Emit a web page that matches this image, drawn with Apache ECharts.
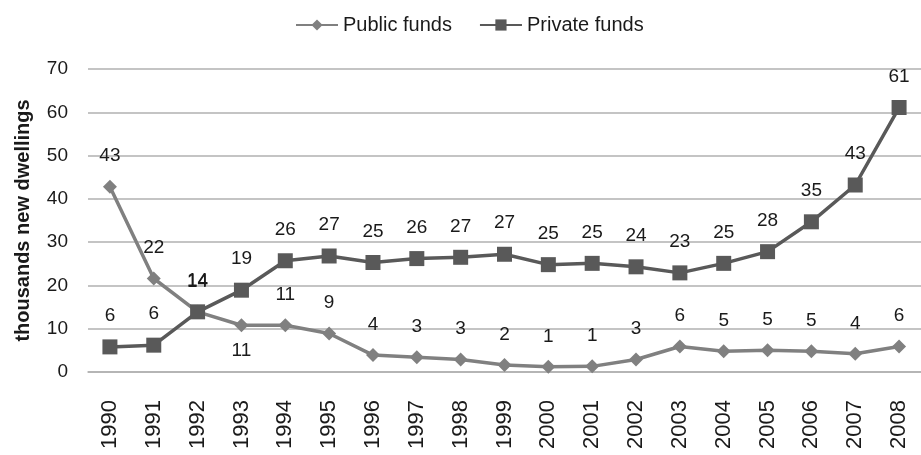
<!DOCTYPE html>
<html>
<head>
<meta charset="utf-8">
<script src="https://cdn.jsdelivr.net/npm/echarts@6/dist/echarts.min.js"></script>
<style>
  html, body { margin: 0; padding: 0; background: #fff; }
  #chart { width: 921px; height: 455px; }
</style>
</head>
<body>
<div id="chart"></div>
<script>
const years = ["1990", "1991", "1992", "1993", "1994", "1995", "1996", "1997", "1998", "1999",
  "2000", "2001", "2002", "2003", "2004", "2005", "2006", "2007", "2008"];
const publicFunds = [42.8, 21.6, 13.9, 10.8, 10.8, 8.9, 3.9, 3.4, 2.9, 1.6,
  1.2, 1.3, 2.9, 5.9, 4.8, 5.0, 4.8, 4.2, 5.9];
const privateFunds = [5.8, 6.2, 13.9, 18.9, 25.7, 26.8, 25.3, 26.2, 26.5, 27.2,
  24.8, 25.1, 24.3, 22.9, 25.1, 27.8, 34.7, 43.2, 61.1];
// public label drawn under the point for this year
const publicLabelBelow = ["1993"];

const font = "Liberation Sans";
const chart = echarts.init(document.getElementById("chart"));

const option = {
  animation: false,
  backgroundColor: "#fff",
  textStyle: { fontFamily: font },
  legend: {
    top: 10,
    left: 290,
    itemWidth: 42,
    itemHeight: 14,
    itemGap: 27,
    textStyle: { fontFamily: font, fontSize: 20, color: "#1a1a1a" },
    data: ["Public funds", "Private funds"],
  },
  grid: { left: 88, top: 69, width: 842, height: 303 },
  xAxis: {
    type: "category",
    data: years,
    axisLine: { show: true, lineStyle: { color: "#b0b0b0", width: 1.5 } },
    axisTick: { show: false },
    axisLabel: { rotate: 90, margin: 28, fontSize: 22, color: "#1a1a1a", fontFamily: font },
  },
  yAxis: {
    type: "value",
    min: 0,
    max: 70,
    interval: 10,
    name: "thousands new dwellings",
    nameLocation: "middle",
    nameGap: 55,
    nameTextStyle: { fontSize: 20, fontWeight: "bold", color: "#1a1a1a", fontFamily: font },
    axisLine: { show: false },
    axisTick: { show: false },
    axisLabel: { margin: 20, fontSize: 19, color: "#1a1a1a", fontFamily: font },
    splitLine: { lineStyle: { color: "#b0b0b0", width: 1.5 } },
  },
  series: [
    {
      name: "Public funds",
      type: "line",
      symbol: "diamond",
      symbolSize: 14,
      lineStyle: { width: 3.5, color: "#808080" },
      itemStyle: { color: "#808080" },
      label: {
        show: true,
        position: "top",
        distance: 14,
        fontSize: 19,
        color: "#1a1a1a",
        fontFamily: font,
        formatter: (p) => Math.round(p.value),
      },
      data: publicFunds.map((v, i) =>
        publicLabelBelow.includes(years[i])
          ? { value: v, label: { position: "bottom", distance: 9 } }
          : v
      ),
    },
    {
      name: "Private funds",
      type: "line",
      symbol: "rect",
      symbolSize: 15,
      lineStyle: { width: 3.5, color: "#595959" },
      itemStyle: { color: "#595959" },
      label: {
        show: true,
        position: "top",
        distance: 14,
        fontSize: 19,
        color: "#1a1a1a",
        fontFamily: font,
        formatter: (p) => Math.round(p.value),
      },
      data: privateFunds,
    },
  ],
};

chart.setOption(option);
</script>
</body>
</html>
